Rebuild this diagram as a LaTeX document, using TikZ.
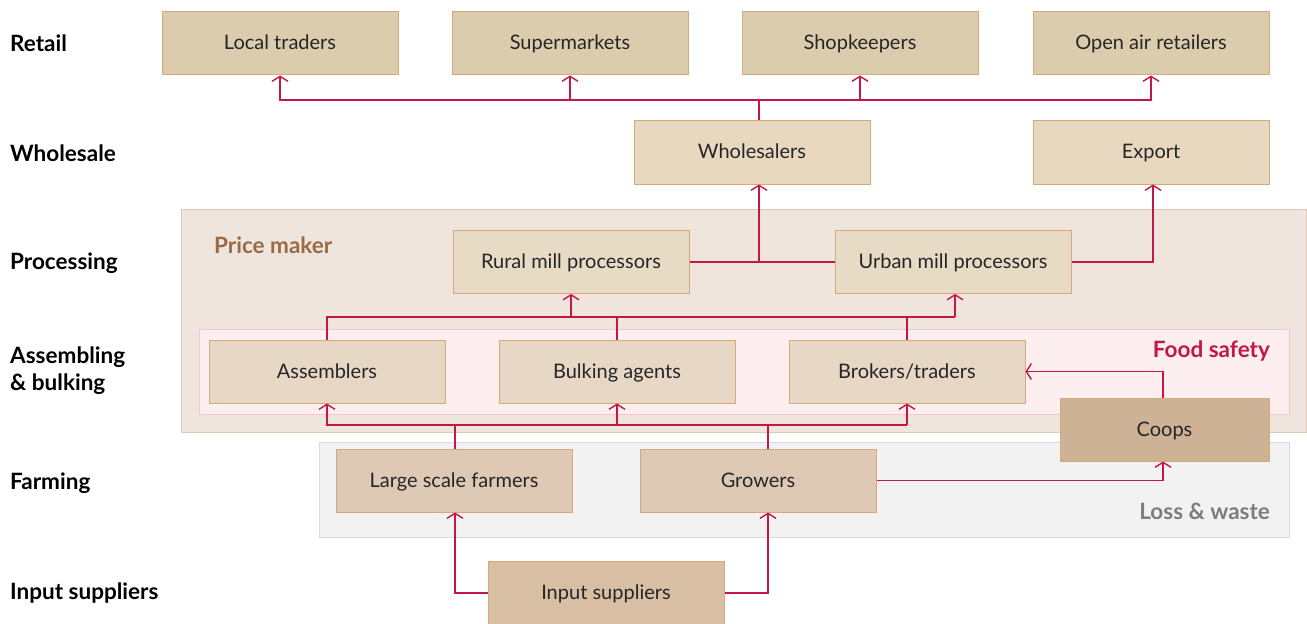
\documentclass[tikz,border=0pt]{standalone}
\usepackage{fontspec}
\setmainfont{Lato}
\usetikzlibrary{arrows.meta}

\definecolor{linkred}{HTML}{C3164A}
\definecolor{boxedge}{HTML}{D6A97D}
\definecolor{retailfill}{HTML}{DCCCAE}
\definecolor{wholefill}{HTML}{E8D8C0}
\definecolor{procfill}{HTML}{E8DBC5}
\definecolor{assemfill}{HTML}{E7D7C5}
\definecolor{farmfill}{HTML}{DDC9B4}
\definecolor{coopfill}{HTML}{CDB296}
\definecolor{inputfill}{HTML}{D8BEA3}
\definecolor{pricefill}{HTML}{EFE5DC}
\definecolor{priceedge}{HTML}{DCCAB8}
\definecolor{pricetext}{HTML}{9A6A45}
\definecolor{safefill}{HTML}{FDEEEF}
\definecolor{safeedge}{HTML}{F6C6CC}
\definecolor{lossfill}{HTML}{F1F2F1}
\definecolor{lossedge}{HTML}{DADBDA}
\definecolor{losstext}{HTML}{7D7D7D}

\tikzset{
  chainbox/.style={draw=boxedge, line width=1bp, minimum width=236bp, minimum height=63bp,
    inner sep=0pt, text height=13bp, text depth=0bp,
    font=\fontsize{20bp}{24bp}\selectfont, text=black!85},
  stagelabel/.style={anchor=west, inner sep=0pt, font=\fontsize{22.5bp}{27bp}\selectfont\bfseries, align=left},
  regionlabel/.style={inner sep=0pt, font=\fontsize{22.5bp}{27bp}\selectfont\bfseries},
  link/.style={draw=linkred, line width=1.4bp},
  arr/.style={link, -{Straight Barb[length=5bp,width=16bp,line width=1.4bp]}},
}

\begin{document}
\begin{tikzpicture}[x=1bp, y=-1bp]
\useasboundingbox (0,0) rectangle (1307,624);

% shaded stage regions
\draw[fill=pricefill, draw=priceedge, line width=1bp] (181,209) rectangle (1306,432);
\draw[fill=safefill, draw=safeedge, line width=1bp] (199,329) rectangle (1289,414);
\draw[fill=lossfill, draw=lossedge, line width=1bp] (319,442) rectangle (1289,537);

\node[regionlabel, text=pricetext, anchor=west] (pm) at (214,245) {Price maker};
\node[regionlabel, text=linkred, anchor=east] (fs) at (1270,351) {Food safety};
\node[regionlabel, text=losstext, anchor=east] (lw) at (1270,511) {Loss \& waste};

% stage names
\node[stagelabel] (sretail) at (10,43) {Retail};
\node[stagelabel] (swhole) at (10,153) {Wholesale};
\node[stagelabel] (sproc) at (10,263) {Processing};
\node[stagelabel] (sassem) at (10,370.5) {Assembling\\\& bulking};
\node[stagelabel] (sfarm) at (10,483) {Farming};
\node[stagelabel] (sinput) at (10,593) {Input suppliers};

% retail
\node[chainbox, fill=retailfill] (local) at (280,43.5) {Local traders};
\node[chainbox, fill=retailfill] (super) at (570,43.5) {Supermarkets};
\node[chainbox, fill=retailfill] (shop) at (860,43.5) {Shopkeepers};
\node[chainbox, fill=retailfill] (open) at (1151,43.5) {Open air retailers};

% wholesale
\node[chainbox, fill=wholefill] (wholes) at (752,152.5) {Wholesalers};
\node[chainbox, fill=wholefill] (export) at (1151,152.5) {Export};

% processing
\node[chainbox, fill=procfill] (rural) at (571,262) {Rural mill processors};
\node[chainbox, fill=procfill] (urban) at (953,262) {Urban mill processors};

% assembling & bulking
\node[chainbox, fill=assemfill] (assem) at (327,371.5) {Assemblers};
\node[chainbox, fill=assemfill] (bulk) at (617,371.5) {Bulking agents};
\node[chainbox, fill=assemfill] (brok) at (907,371.5) {Brokers/traders};
\node[chainbox, fill=coopfill, minimum width=209bp] (coops) at (1164.5,429.5) {Coops};

% farming
\node[chainbox, fill=farmfill] (large) at (454,480.5) {Large scale farmers};
\node[chainbox, fill=farmfill] (grow) at (758,480.5) {Growers};

% input suppliers
\node[chainbox, fill=inputfill, minimum height=64bp] (input) at (606,593) {Input suppliers};

% junction points of the connectors
\coordinate (rbar) at (759,100);
\coordinate (wjoin) at (759,262);
\coordinate (pbar) at (0,317);
\coordinate (fbar) at (0,425);
\coordinate (gx) at (768,0);

% wholesalers to retail
\draw[link] (wholes.north -| rbar) -- (rbar);
\draw[arr] (rbar) -| (local.south);
\draw[arr] (rbar) -| (open.south);
\draw[arr] (super.south |- rbar) -- (super.south);
\draw[arr] (shop.south |- rbar) -- (shop.south);

% processors to wholesalers and export
\draw[link] (rural.east) -- (urban.west);
\draw[arr] (wjoin) -- (wjoin |- wholes.south);
\draw[arr] (urban.east) -| ([xshift=2bp]export.south);

% assembling to processing
\draw[link] (assem.north) |- ([xshift=2bp]urban.south |- pbar);
\draw[link] (bulk.north) -- (bulk.north |- pbar);
\draw[link] (brok.north) -- (brok.north |- pbar);
\draw[arr] (rural.south |- pbar) -- (rural.south);
\draw[arr] ([xshift=2bp]urban.south |- pbar) -- ([xshift=2bp]urban.south);

% farming to assembling
\draw[link] ([xshift=1bp]large.north) -- ([xshift=1bp]large.north |- fbar);
\draw[link] (grow.north -| gx) -- (gx |- fbar);
\draw[arr] (brok.south |- fbar) -| (assem.south);
\draw[arr] (bulk.south |- fbar) -- (bulk.south);
\draw[arr] (brok.south |- fbar) -- (brok.south);

% coops
\draw[arr] ([xshift=-1.5bp]coops.north) |- (brok.east);
\draw[arr] (grow.east) -| ([xshift=-1.5bp]coops.south);

% input suppliers to farmers
\draw[arr] (input.west) -| ([xshift=1bp]large.south);
\draw[arr] (input.east) -| (grow.south -| gx);
\end{tikzpicture}
\end{document}
